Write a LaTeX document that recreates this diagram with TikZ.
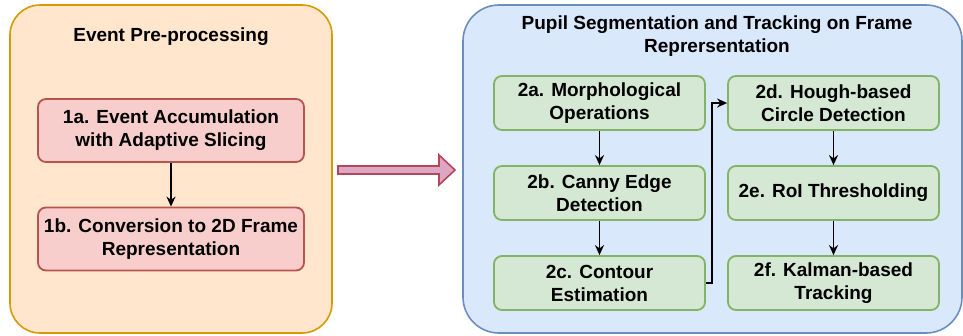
\documentclass[tikz,border=0pt]{standalone}
\usepackage{fontspec}
\setmainfont{Liberation Sans}
\usetikzlibrary{arrows.meta}
\definecolor{orgfill}{HTML}{FFE6CC}
\definecolor{orgline}{HTML}{D79B00}
\definecolor{redfill}{HTML}{F8CECC}
\definecolor{redline}{HTML}{B85450}
\definecolor{bluefill}{HTML}{DAE8FC}
\definecolor{blueline}{HTML}{6C8EBF}
\definecolor{grnfill}{HTML}{D5E8D4}
\definecolor{grnline}{HTML}{82B366}
\definecolor{bigfill}{HTML}{DDA6C3}
\definecolor{bigline}{HTML}{B3475D}
\tikzset{
  lbl/.style={font=\fontsize{19}{23}\selectfont\bfseries, align=center},
  redbox/.style={draw=redline, fill=redfill, line width=1.8pt, rounded corners=8pt,
    minimum width=266pt, minimum height=63pt, lbl},
  grnbox/.style={draw=grnline, fill=grnfill, line width=1.8pt, rounded corners=8pt,
    minimum width=211pt, minimum height=54pt, lbl},
  flow/.style={-{Stealth[length=10pt,width=9pt]}, line width=1.6pt, black},
}
\begin{document}
\begin{tikzpicture}[x=1pt,y=-1pt]
\useasboundingbox (0,0) rectangle (963,335);
% containers
\draw[fill=orgfill, draw=orgline, line width=1.6pt, rounded corners=30pt] (10,5) rectangle (332,333);
\draw[fill=bluefill, draw=blueline, line width=1.6pt, rounded corners=36pt] (463,5) rectangle (962,333);
\node[lbl] (t1) at (171,37) {Event Pre-processing};
\node[lbl] (t2) at (717,36.5) {Pupil Segmentation and Tracking on Frame\\Reprersentation};
% stage 1
\node[redbox] (a1) at (171,130.5) {1a. Event Accumulation\\with Adaptive Slicing};
\node[redbox] (b1) at (171,239) {1b. Conversion to 2D Frame\\Representation};
\draw[flow] (a1) -- (b1);
% transition arrow between stages
\draw[fill=bigfill, draw=bigline, line width=1.6pt, line join=miter]
  (338,166) -- (439,166) -- (439,155) -- (455,170) -- (439,185) -- (439,174) -- (338,174) -- cycle;
% stage 2
\node[grnbox] (a2) at (599.5,103) {2a. Morphological\\Operations};
\node[grnbox] (b2) at (599.5,193) {2b. Canny Edge\\Detection};
\node[grnbox] (c2) at (599.5,283) {2c. Contour\\Estimation};
\node[grnbox] (d2) at (833.5,103) {2d. Hough-based\\Circle Detection};
\node[grnbox] (e2) at (833.5,193) {2e. RoI Thresholding};
\node[grnbox] (f2) at (833.5,283) {2f. Kalman-based\\Tracking};
\draw[flow] (a2) -- (b2);
\draw[flow] (b2) -- (c2);
\draw[flow] (d2) -- (e2);
\draw[flow] (e2) -- (f2);
\coordinate (k1) at (712,283);
\coordinate (k2) at (712,103);
\draw[flow] (c2.east) -- (k1) -- (k2) -- (d2.west);
\end{tikzpicture}
\end{document}
